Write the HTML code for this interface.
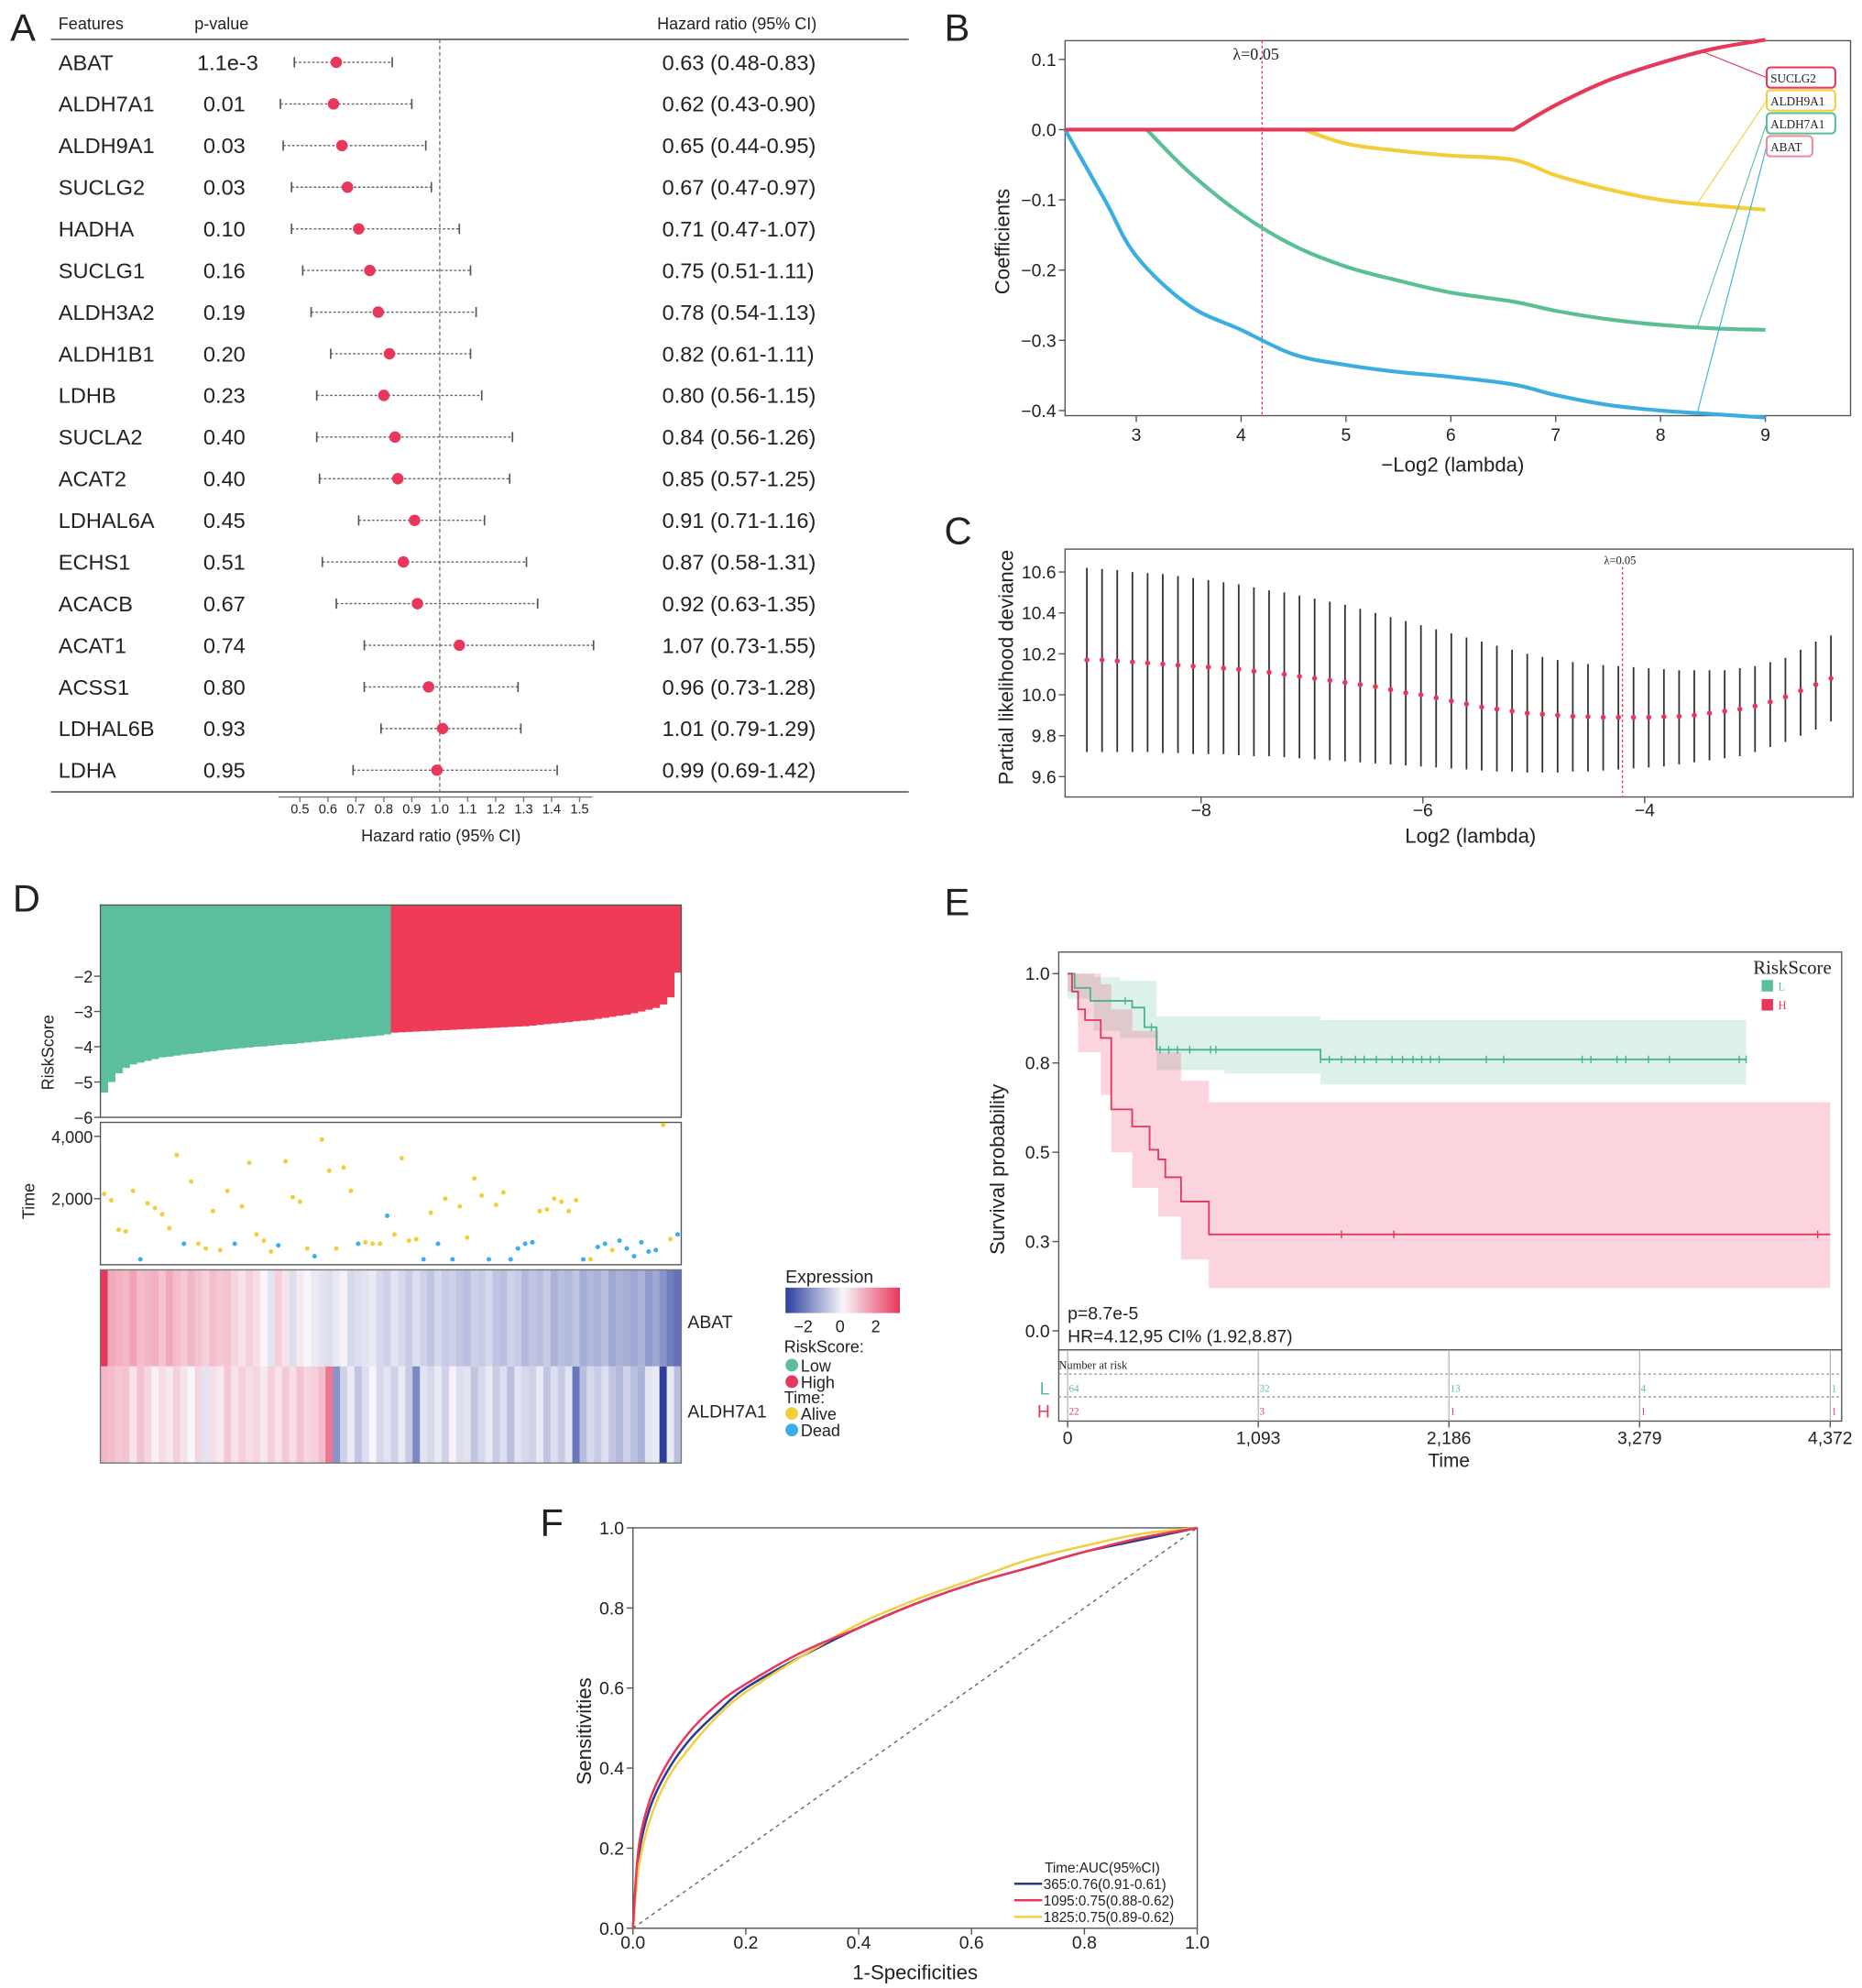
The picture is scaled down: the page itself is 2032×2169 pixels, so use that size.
<!DOCTYPE html>
<html><head><meta charset="utf-8"><style>
html,body{margin:0;padding:0;background:#fff}
svg{display:block}
text{font-family:"Liberation Sans",sans-serif;fill:#222}
.serif{font-family:"Liberation Serif",serif}
</style></head><body>
<svg id="fig" xmlns="http://www.w3.org/2000/svg" width="2032" height="2169" viewBox="0 0 1465 1564" preserveAspectRatio="none">
<rect x="0" y="0" width="1465" height="1564" fill="#fff"/>
<text x="8" y="32" font-size="30">A</text>
<text x="743" y="32" font-size="30">B</text>
<text x="743" y="428" font-size="30">C</text>
<text x="10" y="717" font-size="30">D</text>
<text x="743" y="720" font-size="30">E</text>
<text x="425" y="1208" font-size="30">F</text>
<text x="46" y="23" font-size="13">Features</text>
<text x="153" y="23" font-size="13">p-value</text>
<text x="517" y="23" font-size="13">Hazard ratio (95% CI)</text>
<line x1="40" y1="31" x2="715" y2="31" stroke="#777" stroke-width="1.5"/>
<line x1="40" y1="623" x2="715" y2="623" stroke="#777" stroke-width="1.5"/>
<line x1="346" y1="31" x2="346" y2="623" stroke="#777" stroke-width="1" stroke-dasharray="3,2"/>
<text x="347" y="662" font-size="13" text-anchor="middle">Hazard ratio (95% CI)</text>
<g id="gA"></g>
<rect x="838" y="32" width="618" height="295" fill="none" stroke="#555" stroke-width="1"/>
<text x="1143" y="371" font-size="16" text-anchor="middle">−Log2 (lambda)</text>
<text transform="translate(794,190) rotate(-90)" font-size="16" text-anchor="middle">Coefficients</text>
<text x="970" y="47" font-size="13" class="serif">λ=0.05</text>
<g id="gB"></g>
<rect x="838" y="432" width="620" height="195" fill="none" stroke="#555" stroke-width="1"/>
<text x="1157" y="663" font-size="16" text-anchor="middle">Log2 (lambda)</text>
<text transform="translate(797,525) rotate(-90)" font-size="16" text-anchor="middle">Partial likelihood deviance</text>
<text x="1262" y="444" font-size="9" class="serif">λ=0.05</text>
<g id="gC"></g>
<text transform="translate(42,828) rotate(-90)" font-size="13" text-anchor="middle">RiskScore</text>
<text transform="translate(27,945) rotate(-90)" font-size="13" text-anchor="middle">Time</text>
<g id="gD"></g>
<text x="541" y="1045" font-size="14">ABAT</text>
<text x="541" y="1115" font-size="14">ALDH7A1</text>
<defs><linearGradient id="expg" x1="0" x2="1"><stop offset="0" stop-color="#2a3f9e"/><stop offset="0.5" stop-color="#f8f6fb"/><stop offset="1" stop-color="#e8375a"/></linearGradient></defs>
<text x="618" y="1009" font-size="14">Expression</text>
<rect x="618" y="1013" width="90" height="20" fill="url(#expg)"/>
<text x="632" y="1048" font-size="13" text-anchor="middle">−2</text>
<text x="661" y="1048" font-size="13" text-anchor="middle">0</text>
<text x="689" y="1048" font-size="13" text-anchor="middle">2</text>
<text x="617" y="1064" font-size="13">RiskScore:</text>
<circle cx="623" cy="1074" r="5" fill="#5bbf9f"/>
<text x="630" y="1079" font-size="13">Low</text>
<circle cx="623" cy="1087" r="5" fill="#e8375a"/>
<text x="630" y="1092" font-size="13">High</text>
<text x="617" y="1104" font-size="13">Time:</text>
<circle cx="623" cy="1112" r="5" fill="#f2cf3a"/>
<text x="630" y="1117" font-size="13">Alive</text>
<circle cx="623" cy="1125" r="5" fill="#3aaee8"/>
<text x="630" y="1130" font-size="13">Dead</text>
<rect x="833" y="749" width="616" height="313" fill="none" stroke="#555" stroke-width="1"/>
<rect x="833" y="1062" width="616" height="56" fill="none" stroke="#555" stroke-width="1"/>
<text transform="translate(790,920) rotate(-90)" font-size="16" text-anchor="middle">Survival probability</text>
<text x="1140" y="1154" font-size="15" text-anchor="middle">Time</text>
<text x="1441" y="766" font-size="15" class="serif" text-anchor="end">RiskScore</text>
<rect x="1386" y="771" width="9" height="9" fill="#5bbf9f"/>
<text x="1399" y="779" font-size="9" class="serif" style="fill:#5bbf9f">L</text>
<rect x="1386" y="786" width="9" height="9" fill="#e8375a"/>
<text x="1399" y="794" font-size="9" class="serif" style="fill:#e8375a">H</text>
<text x="840" y="1038" font-size="14">p=8.7e-5</text>
<text x="840" y="1056" font-size="14">HR=4.12,95 CI% (1.92,8.87)</text>
<text x="833" y="1077" font-size="9" class="serif">Number at risk</text>
<line x1="833" y1="1081" x2="1449" y2="1081" stroke="#999" stroke-dasharray="2,2"/>
<line x1="833" y1="1099" x2="1449" y2="1099" stroke="#999" stroke-dasharray="2,2"/>
<text x="818" y="1097" font-size="14" style="fill:#5bbf9f">L</text>
<text x="816" y="1115" font-size="14" style="fill:#e8375a">H</text>
<g id="gE"></g>
<rect x="498" y="1202" width="444" height="315" fill="none" stroke="#555" stroke-width="1"/>
<line x1="498" y1="1517" x2="942" y2="1202" stroke="#666" stroke-dasharray="3,3"/>
<text transform="translate(465,1362) rotate(-90)" font-size="16" text-anchor="middle">Sensitivities</text>
<text x="720" y="1557" font-size="16" text-anchor="middle">1-Specificities</text>
<text x="822" y="1473" font-size="11">Time:AUC(95%CI)</text>
<g id="gF"></g>
</svg>
<script>
const features=["ABAT","ALDH7A1","ALDH9A1","SUCLG2","HADHA","SUCLG1","ALDH3A2","ALDH1B1","LDHB","SUCLA2","ACAT2","LDHAL6A","ECHS1","ACACB","ACAT1","ACSS1","LDHAL6B","LDHA"];
const pvals=["1.1e-3","0.01","0.03","0.03","0.10","0.16","0.19","0.20","0.23","0.40","0.40","0.45","0.51","0.67","0.74","0.80","0.93","0.95"];
const hrVals=[0.63,0.62,0.65,0.67,0.71,0.75,0.78,0.82,0.80,0.84,0.85,0.91,0.87,0.92,1.07,0.96,1.01,0.99];
const hrLo=[0.48,0.43,0.44,0.47,0.47,0.51,0.54,0.61,0.56,0.56,0.57,0.71,0.58,0.63,0.73,0.73,0.79,0.69];
const hrHi=[0.83,0.90,0.95,0.97,1.07,1.11,1.13,1.11,1.15,1.26,1.25,1.16,1.31,1.35,1.55,1.28,1.29,1.42];
const hrTicks=[0.5,0.6,0.7,0.8,0.9,1.0,1.1,1.2,1.3,1.4,1.5];
const bTicksX=[3,4,5,6,7,8,9];
const bTicksY=[0.1,0.0,-0.1,-0.2,-0.3,-0.4];
const pathNames=["SUCLG2","ALDH9A1","ALDH7A1","ABAT"];
const sucX=[2.32,6.6,7,7.5,8,8.5,9];
const sucY=[0,0,0.035,0.07,0.095,0.115,0.128];
const aldh9X=[4.6,5,5.5,6,6.6,7,7.5,8,8.5,9];
const aldh9Y=[0,-0.02,-0.03,-0.037,-0.043,-0.065,-0.085,-0.1,-0.108,-0.114];
const aldh7X=[3.1,3.5,4,4.5,5,5.5,6,6.6,7,7.5,8,8.5,9];
const aldh7Y=[0,-0.06,-0.12,-0.165,-0.195,-0.215,-0.232,-0.245,-0.258,-0.27,-0.278,-0.283,-0.285];
const abatX=[2.32,2.7,3,3.5,4,4.5,5,5.5,6,6.6,7,7.5,8,8.5,9];
const abatY=[0,-0.1,-0.18,-0.25,-0.285,-0.32,-0.335,-0.345,-0.352,-0.363,-0.378,-0.392,-0.4,-0.405,-0.41];
const cTicksX=[-8,-6,-4];
const cTicksY=[9.6,9.8,10.0,10.2,10.4,10.6];
const cvMean=[10.17,10.17,10.165,10.16,10.155,10.15,10.145,10.14,10.135,10.13,10.125,10.115,10.11,10.1,10.09,10.08,10.07,10.06,10.05,10.04,10.025,10.01,10.0,9.985,9.97,9.955,9.94,9.93,9.92,9.91,9.905,9.9,9.895,9.893,9.89,9.89,9.89,9.89,9.893,9.895,9.9,9.91,9.92,9.93,9.945,9.965,9.99,10.02,10.05,10.08];
const cvUp=[10.62,10.615,10.61,10.6,10.595,10.59,10.58,10.57,10.56,10.55,10.54,10.525,10.51,10.5,10.485,10.47,10.455,10.44,10.42,10.4,10.38,10.36,10.34,10.32,10.3,10.28,10.26,10.24,10.22,10.2,10.185,10.17,10.16,10.15,10.145,10.14,10.135,10.13,10.125,10.12,10.12,10.12,10.12,10.13,10.14,10.16,10.18,10.22,10.26,10.29];
const cvLo=[9.72,9.72,9.72,9.72,9.72,9.715,9.715,9.71,9.71,9.71,9.705,9.7,9.7,9.695,9.69,9.685,9.68,9.675,9.67,9.665,9.66,9.655,9.65,9.645,9.64,9.635,9.63,9.625,9.625,9.62,9.62,9.62,9.625,9.625,9.63,9.635,9.64,9.645,9.65,9.66,9.67,9.68,9.69,9.7,9.72,9.745,9.77,9.8,9.83,9.87];
const cvLogLambdaStart=-9.03, cvLogLambdaEnd=-2.32, lambdaMin=-4.2;
const riskScores=[-5.3,-5.0,-4.75,-4.6,-4.5,-4.45,-4.4,-4.35,-4.3,-4.28,-4.25,-4.22,-4.2,-4.18,-4.15,-4.13,-4.1,-4.08,-4.06,-4.04,-4.02,-4.0,-3.99,-3.97,-3.95,-3.93,-3.92,-3.9,-3.88,-3.86,-3.84,-3.82,-3.8,-3.78,-3.76,-3.74,-3.72,-3.7,-3.68,-3.65,
-3.6,-3.59,-3.58,-3.57,-3.56,-3.55,-3.54,-3.53,-3.52,-3.51,-3.5,-3.49,-3.48,-3.47,-3.46,-3.45,-3.44,-3.43,-3.42,-3.4,-3.38,-3.36,-3.34,-3.32,-3.3,-3.28,-3.26,-3.24,-3.21,-3.18,-3.15,-3.12,-3.09,-3.05,-3.0,-2.95,-2.9,-2.8,-2.6,-1.9];
const riskTicks=[-2,-3,-4,-5,-6];
const survTimes=[2150,1950,1000,950,2250,50,1850,1700,1500,1050,3400,550,2550,550,400,1600,350,2250,550,1750,3150,850,650,300,500,3200,2050,1900,400,150,3900,2900,400,3000,2250,550,600,550,550,1450,850,3300,650,700,50,1550,550,2000,50,1750,750,2650,2100,50,1800,2200,50,400,550,600,1600,1650,2000,1900,1600,1950,50,50,450,550,350,650,400,150,600,300,350,4400,700,850];
const survDead=[0,0,0,0,0,1,0,0,0,0,0,1,0,0,0,0,0,0,1,0,0,0,0,0,1,0,0,0,0,1,0,0,0,0,0,1,0,0,0,1,0,0,0,0,1,0,1,0,1,0,0,0,0,1,0,0,1,1,1,1,0,0,0,0,0,0,1,0,1,1,0,1,1,1,1,1,1,0,0,1];
const timeTicks=[4000,2000];
const exprABAT=[3,1.2,1.1,1.0,1.3,0.9,1.0,1.1,0.8,1.2,0.9,0.7,1.0,0.8,0.6,0.9,0.7,0.8,0.5,0.3,0.6,0.4,0.0,-0.3,0.6,0.3,-0.4,0.2,0.0,-0.2,-0.3,-0.4,-0.2,0.1,-0.5,-0.4,-0.3,-0.2,-0.5,-0.6,-0.3,-0.5,-0.7,-0.4,-0.6,-0.8,-0.5,-0.7,-0.6,-0.8,-0.9,-0.6,-0.7,-0.5,-0.8,-0.9,-0.6,-0.7,-1.0,-0.8,-0.9,-0.7,-1.1,-0.9,-1.0,-0.8,-1.2,-1.0,-1.1,-0.9,-1.3,-1.1,-1.2,-1.3,-1.1,-1.5,-1.3,-1.6,-2.0,-2.2];
const exprALDH7A1=[1.0,0.9,0.7,0.8,0.3,0.8,0.5,0.1,0.4,0.2,0.6,0.3,0.0,0.5,-0.3,0.4,0.2,0.7,0.3,0.6,0.4,0.5,0.2,0.6,0.3,0.7,0.4,0.8,0.5,0.6,0.9,2.0,-1.6,-0.6,-0.2,-0.8,-0.4,0.0,-0.5,-0.3,-0.6,-0.2,-0.7,-1.8,-0.3,-0.5,-0.2,-0.6,0.1,-0.4,-0.3,-0.8,-0.5,-0.2,-0.7,-0.4,-0.9,-0.3,-0.5,-0.6,-0.2,-0.8,-0.4,-0.7,-0.3,-2.1,-0.9,-0.5,-0.7,-0.4,-0.8,-1.0,-0.6,-0.9,-1.1,-0.3,-0.2,-3.0,-0.2,-0.9];
const kmTicks=[0,1093,2186,3279,4372];
const kmYTicks=[1.0,0.75,0.5,0.25,0.0];
const kmYLabels=["1.0","0.8","0.5","0.3","0.0"];
const lowT=[0,40,130,370,440,510,900,1450,3890];
const lowS=[1,0.96,0.924,0.905,0.85,0.787,0.787,0.76,0.76];
const lowCiT=[0,150,300,510,900,1450,3890];
const lowCiUp=[1,0.99,0.98,0.88,0.88,0.87,0.86];
const lowCiLo=[0.93,0.84,0.82,0.73,0.72,0.69,0.69];
const highT=[0,25,60,100,190,250,370,470,520,560,650,810,4372];
const highS=[1,0.95,0.9,0.87,0.82,0.62,0.572,0.507,0.48,0.43,0.362,0.27,0.27];
const highCiT=[0,60,190,250,370,520,650,810,4372];
const highCiUp=[1,1,0.97,0.9,0.84,0.78,0.7,0.64,0.64];
const highCiLo=[0.95,0.78,0.66,0.5,0.4,0.32,0.2,0.12,0.12];
const censorLow=[330,480,530,580,630,700,820,850,1450,1500,1570,1650,1700,1770,1860,1920,1980,2030,2080,2130,2400,2500,2950,3000,3150,3200,3330,3450,3850,3890];
const censorHigh=[1570,1870,4300];
const riskL=[64,32,13,4,1];
const riskH=[22,3,1,1,1];
const rocFpr=[0,0.01,0.03,0.06,0.1,0.15,0.2,0.3,0.4,0.5,0.6,0.7,0.8,0.9,1];
const roc365=[0,0.18,0.3,0.39,0.47,0.54,0.6,0.68,0.75,0.81,0.86,0.9,0.94,0.97,1];
const roc1095=[0,0.2,0.32,0.41,0.49,0.56,0.61,0.69,0.75,0.81,0.86,0.9,0.94,0.975,1];
const roc1825=[0,0.15,0.27,0.37,0.45,0.53,0.59,0.68,0.76,0.82,0.87,0.92,0.955,0.985,1];
const rocLabels=["365:0.76(0.91-0.61)","1095:0.75(0.88-0.62)","1825:0.75(0.89-0.62)"];
const rocTicks=[0,0.2,0.4,0.6,0.8,1.0];

const NS="http://www.w3.org/2000/svg";
function mk(p,tag,attrs,txt){const e=document.createElementNS(NS,tag);for(const k in attrs)e.setAttribute(k,attrs[k]);if(txt!=null)e.textContent=txt;p.appendChild(e);return e;}
const RED="#e8375a",YEL="#f2cf3a",GRN="#5bbf94",BLU="#3aaee0";
function smoothD(p){let d="M"+p[0][0]+","+p[0][1];
  for(let i=1;i<p.length;i++){const p0=p[Math.max(0,i-2)],p1=p[i-1],p2=p[i],p3=p[Math.min(p.length-1,i+1)];
    const c1=[p1[0]+(p2[0]-p0[0])/6,p1[1]+(p2[1]-p0[1])/6],c2=[p2[0]-(p3[0]-p1[0])/6,p2[1]-(p3[1]-p1[1])/6];
    d+="C"+c1[0]+","+c1[1]+" "+c2[0]+","+c2[1]+" "+p2[0]+","+p2[1];}return d;}

// ---- A ----
const gA=document.getElementById("gA");
const xA=v=>346+(v-1)*220, rowY=i=>49+i*32.76;
features.forEach((f,i)=>{
  const y=rowY(i);
  let e=mk(gA,"text",{x:46,y:y+6,"font-size":17},f);
  
  
  e=mk(gA,"text",{x:i===0?155:160,y:y+6,"font-size":17},pvals[i]);
  
  
  e=mk(gA,"text",{x:521,y:y+6,"font-size":17},hrVals[i].toFixed(2)+" ("+hrLo[i].toFixed(2)+"-"+hrHi[i].toFixed(2)+")");
  
  
  e=mk(gA,"line",{x1:xA(hrLo[i]),x2:xA(hrHi[i]),y1:y,y2:y,stroke:"#666","stroke-width":1,"stroke-dasharray":"2,1.5"});
  
  
  [hrLo[i],hrHi[i]].forEach(v=>{const c=mk(gA,"line",{x1:xA(v),x2:xA(v),y1:y-4,y2:y+4,stroke:"#555","stroke-width":1.2});
    
    });
  e=mk(gA,"circle",{cx:xA(hrVals[i]),cy:y,r:4.5,fill:RED});
  
  
});
let ax=mk(gA,"line",{x1:219,x2:466,y1:627,y2:627,stroke:"#777"});


hrTicks.forEach(t=>{let e=mk(gA,"line",{x1:xA(t),x2:xA(t),y1:627,y2:631,stroke:"#777"});
  
  
  e=mk(gA,"text",{x:xA(t),y:640,"font-size":10.5,"text-anchor":"middle"},t.toFixed(1));
  
  });

// ---- B ----
const gB=document.getElementById("gB");
const xB=v=>894+(v-3)*82.5, yB=v=>102-v*552.5;
bTicksX.forEach(t=>{let e=mk(gB,"line",{x1:xB(t),x2:xB(t),y1:327,y2:332,stroke:"#555"});
  
  
  e=mk(gB,"text",{x:xB(t),y:347,"font-size":14,"text-anchor":"middle"},String(t));
  
  });
bTicksY.forEach(t=>{let e=mk(gB,"line",{x1:833,x2:838,y1:yB(t),y2:yB(t),stroke:"#555"});
  
  
  e=mk(gB,"text",{x:831,y:yB(t)+5,"font-size":14,"text-anchor":"end"},(t<0?"−":"")+Math.abs(t).toFixed(1));
  
  });
let vl=mk(gB,"line",{x1:xB(4.2),x2:xB(4.2),y1:32,y2:327,stroke:RED,"stroke-dasharray":"2,2"});


const series=[[abatX,abatY,BLU,"abat"],[aldh7X,aldh7Y,GRN,"aldh7a1"],[aldh9X,aldh9Y,YEL,"aldh9a1"],[sucX,sucY,RED,"suclg2"]];
series.forEach(s=>{
  let pts=s[0].map((x,i)=>[xB(x),yB(s[1][i])]);
  let d;
  if(s[3]==="suclg2"){d="M"+pts[0][0]+","+pts[0][1]+"L"+pts[1][0]+","+pts[1][1]+smoothD(pts.slice(1)).replace(/^M[^C]*/,"");}
  else d=smoothD(pts);
  const e=mk(gB,"path",{d:d,fill:"none",stroke:s[2],"stroke-width":3,"stroke-linejoin":"round"});
  
  });
const boxCols=[RED,YEL,GRN,"#f08aa0"], lineCols=[RED,YEL,GRN,BLU], boxY=[53,71,89,107], anchorIdx=[[sucX,sucY,8.4],[aldh9X,aldh9Y,8.35],[aldh7X,aldh7Y,8.35],[abatX,abatY,8.35]];
function interp(xs,ys,x){for(let i=1;i<xs.length;i++)if(x<=xs[i]){const f=(x-xs[i-1])/(xs[i]-xs[i-1]);return ys[i-1]+f*(ys[i]-ys[i-1]);}return ys[ys.length-1];}
pathNames.forEach((n,i)=>{const a=anchorIdx[i];const ax0=xB(a[2]),ay0=yB(interp(a[0],a[1],a[2]));
  let e=mk(gB,"line",{x1:ax0,y1:ay0,x2:1390,y2:boxY[i]+8,stroke:lineCols[i],"stroke-width":0.8});
  
  
  e=mk(gB,"rect",{x:1390,y:boxY[i],width:i==3?36:54,height:16,rx:3,fill:"#fff",stroke:boxCols[i],"stroke-width":1.5});
  
  
  e=mk(gB,"text",{x:1393,y:boxY[i]+12,"font-size":9.5,class:"serif"},n);
  
  });

// ---- C ----
const gC=document.getElementById("gC");
const xC=v=>945+(v+8)*87.25, yC=v=>450+(10.6-v)*161;
cTicksX.forEach(t=>{let e=mk(gC,"line",{x1:xC(t),x2:xC(t),y1:627,y2:632,stroke:"#555"});
  
  
  e=mk(gC,"text",{x:xC(t),y:642,"font-size":14,"text-anchor":"middle"},"−"+Math.abs(t));
  
  });
cTicksY.forEach(t=>{let e=mk(gC,"line",{x1:833,x2:838,y1:yC(t),y2:yC(t),stroke:"#555"});
  
  
  e=mk(gC,"text",{x:831,y:yC(t)+5,"font-size":14,"text-anchor":"end"},t.toFixed(1));
  
  });
const nC=cvMean.length, stepC=(cvLogLambdaEnd-cvLogLambdaStart)/(nC-1);
cvMean.forEach((m,i)=>{const x=xC(cvLogLambdaStart+i*stepC);
  let e=mk(gC,"line",{x1:x,x2:x,y1:yC(cvUp[i]),y2:yC(cvLo[i]),stroke:"#333","stroke-width":1.3});
  
  
  e=mk(gC,"circle",{cx:x,cy:yC(m),r:2,fill:RED});
  
  });
vl=mk(gC,"line",{x1:xC(lambdaMin),x2:xC(lambdaMin),y1:446,y2:627,stroke:RED,"stroke-dasharray":"2,2"});



// ---- D ----
const gD=document.getElementById("gD");
const nD=riskScores.length, x0D=79, wD=457, bw=wD/nD;
const yR=v=>768+(-2-v)*27.75, yT=v=>992-v*0.0245;
riskScores.forEach((v,i)=>{const e=mk(gD,"rect",{x:x0D+i*bw,y:712,width:bw+0.4,height:yR(v)-712,fill:i<nD/2?"#5bbf9f":"#ee3b57"});
  
  });
let fr=mk(gD,"rect",{x:79,y:712,width:457,height:167,fill:"none",stroke:"#555"});


riskTicks.forEach(t=>{let e=mk(gD,"line",{x1:74,x2:79,y1:yR(t),y2:yR(t),stroke:"#555"});
  
  
  e=mk(gD,"text",{x:73,y:yR(t)+5,"font-size":13,"text-anchor":"end"},"−"+Math.abs(t));
  
  });
fr=mk(gD,"rect",{x:79,y:883,width:457,height:112,fill:"none",stroke:"#555"});


timeTicks.forEach(t=>{let e=mk(gD,"line",{x1:74,x2:79,y1:yT(t),y2:yT(t),stroke:"#555"});
  
  
  e=mk(gD,"text",{x:73,y:yT(t)+5,"font-size":13,"text-anchor":"end"},t.toLocaleString("en-US"));
  
  });
survTimes.forEach((t,i)=>{const e=mk(gD,"circle",{cx:x0D+(i+0.5)*bw,cy:Math.max(885,yT(t)),r:1.8,fill:survDead[i]?"#3aaee8":"#f2cf3a"});
  
  });
function heat(v){v=Math.max(-3,Math.min(3,v));let c0,c1,f;
  if(v<0){c0=[248,246,251];c1=[42,63,158];f=-v/3;}else{c0=[248,246,251];c1=[232,55,90];f=v/3;}
  return "rgb("+c0.map((c,k)=>Math.round(c+(c1[k]-c)*f)).join(",")+")";}
[[exprABAT,999,"abat"],[exprALDH7A1,1075,"aldh7a1"]].forEach(r=>{r[0].forEach((v,i)=>{
  const e=mk(gD,"rect",{x:x0D+i*bw,y:r[1],width:bw+0.4,height:76,fill:heat(v)});
  
  });});
fr=mk(gD,"rect",{x:79,y:999,width:457,height:152,fill:"none",stroke:"#777"});



// ---- E ----
const gE=document.getElementById("gE");
const xE=t=>840+t*600/4372, yE=s=>1047-s*281;
function stepPts(T,S){let p=[];T.forEach((t,i)=>{if(i>0)p.push([xE(t),yE(S[i-1])]);p.push([xE(t),yE(S[i])]);});return p;}
function band(T,U,L){const up=stepPts(T,U),lo=stepPts(T,L).reverse();return up.concat(lo).map((p,i)=>(i?"L":"M")+p[0]+","+p[1]).join("")+"Z";}
function interpStep(T,S,t){let s=S[0];T.forEach((x,i)=>{if(x<=t)s=S[i];});return s;}
let bd=mk(gE,"path",{d:band(lowCiT,lowCiUp,lowCiLo),fill:"#5bbf9f","fill-opacity":0.22});


bd=mk(gE,"path",{d:band(highCiT,highCiUp,highCiLo),fill:"#ee5577","fill-opacity":0.25});


let km=mk(gE,"path",{d:stepPts(lowT,lowS).map((p,i)=>(i?"L":"M")+p[0]+","+p[1]).join(""),fill:"none",stroke:"#4bb38a","stroke-width":1.3});


km=mk(gE,"path",{d:stepPts(highT,highS).map((p,i)=>(i?"L":"M")+p[0]+","+p[1]).join(""),fill:"none",stroke:"#e0385c","stroke-width":1.3});


censorLow.forEach(t=>{const y=yE(interpStep(lowT,lowS,t));const e=mk(gE,"line",{x1:xE(t),x2:xE(t),y1:y-3,y2:y+3,stroke:"#4bb38a"});
  
  });
censorHigh.forEach(t=>{const y=yE(interpStep(highT,highS,t));const e=mk(gE,"line",{x1:xE(t),x2:xE(t),y1:y-3,y2:y+3,stroke:"#e0385c"});
  
  });
kmYTicks.forEach((t,i)=>{let e=mk(gE,"line",{x1:828,x2:833,y1:yE(t),y2:yE(t),stroke:"#555"});
  
  
  e=mk(gE,"text",{x:826,y:yE(t)+5,"font-size":14,"text-anchor":"end"},kmYLabels[i]);
  
  });
kmTicks.forEach((t,i)=>{let e=mk(gE,"line",{x1:xE(t),x2:xE(t),y1:1062,y2:1118,stroke:"#aaa","stroke-width":0.8});
  
  
  e=mk(gE,"line",{x1:xE(t),x2:xE(t),y1:1118,y2:1123,stroke:"#555"});
  
  
  e=mk(gE,"text",{x:xE(t),y:1136,"font-size":14,"text-anchor":"middle"},t.toLocaleString("en-US"));
  
  
  e=mk(gE,"text",{x:xE(t)+1,y:1095,"font-size":8,class:"serif",style:"fill:#5bbf9f"},String(riskL[i]));
  
  
  e=mk(gE,"text",{x:xE(t)+1,y:1113,"font-size":8,class:"serif",style:"fill:#e8375a"},String(riskH[i]));
  
  });

// ---- F ----
const gF=document.getElementById("gF");
const xF=v=>498+v*444, yF=v=>1517-v*315;
rocTicks.forEach(t=>{let e=mk(gF,"line",{x1:xF(t),x2:xF(t),y1:1517,y2:1522,stroke:"#555"});
  
  
  e=mk(gF,"text",{x:xF(t),y:1533,"font-size":14,"text-anchor":"middle"},t.toFixed(1));
  
  
  e=mk(gF,"line",{x1:493,x2:498,y1:yF(t),y2:yF(t),stroke:"#555"});
  
  
  e=mk(gF,"text",{x:491,y:yF(t)+5,"font-size":14,"text-anchor":"end"},t.toFixed(1));
  
  });
const rocSeries=[[roc365,"#2d3a8c","roc-curve-365"],[roc1825,"#f0d040","roc-curve-1825"],[roc1095,"#e8375a","roc-curve-1095"]];
rocSeries.forEach(s=>{const e=mk(gF,"path",{d:smoothD(rocFpr.map((x,i)=>[xF(x),yF(s[0][i])])),fill:"none",stroke:s[1],"stroke-width":1.8});
  
  });
const legCols=["#2d3a8c","#e8375a","#f0d040"];
rocLabels.forEach((l,i)=>{const y=1482+i*13;
  let e=mk(gF,"line",{x1:798,x2:820,y1:y,y2:y,stroke:legCols[i],"stroke-width":1.8});
  
  
  e=mk(gF,"text",{x:821,y:y+4,"font-size":11},l);
  
  });
</script>
</body></html>
